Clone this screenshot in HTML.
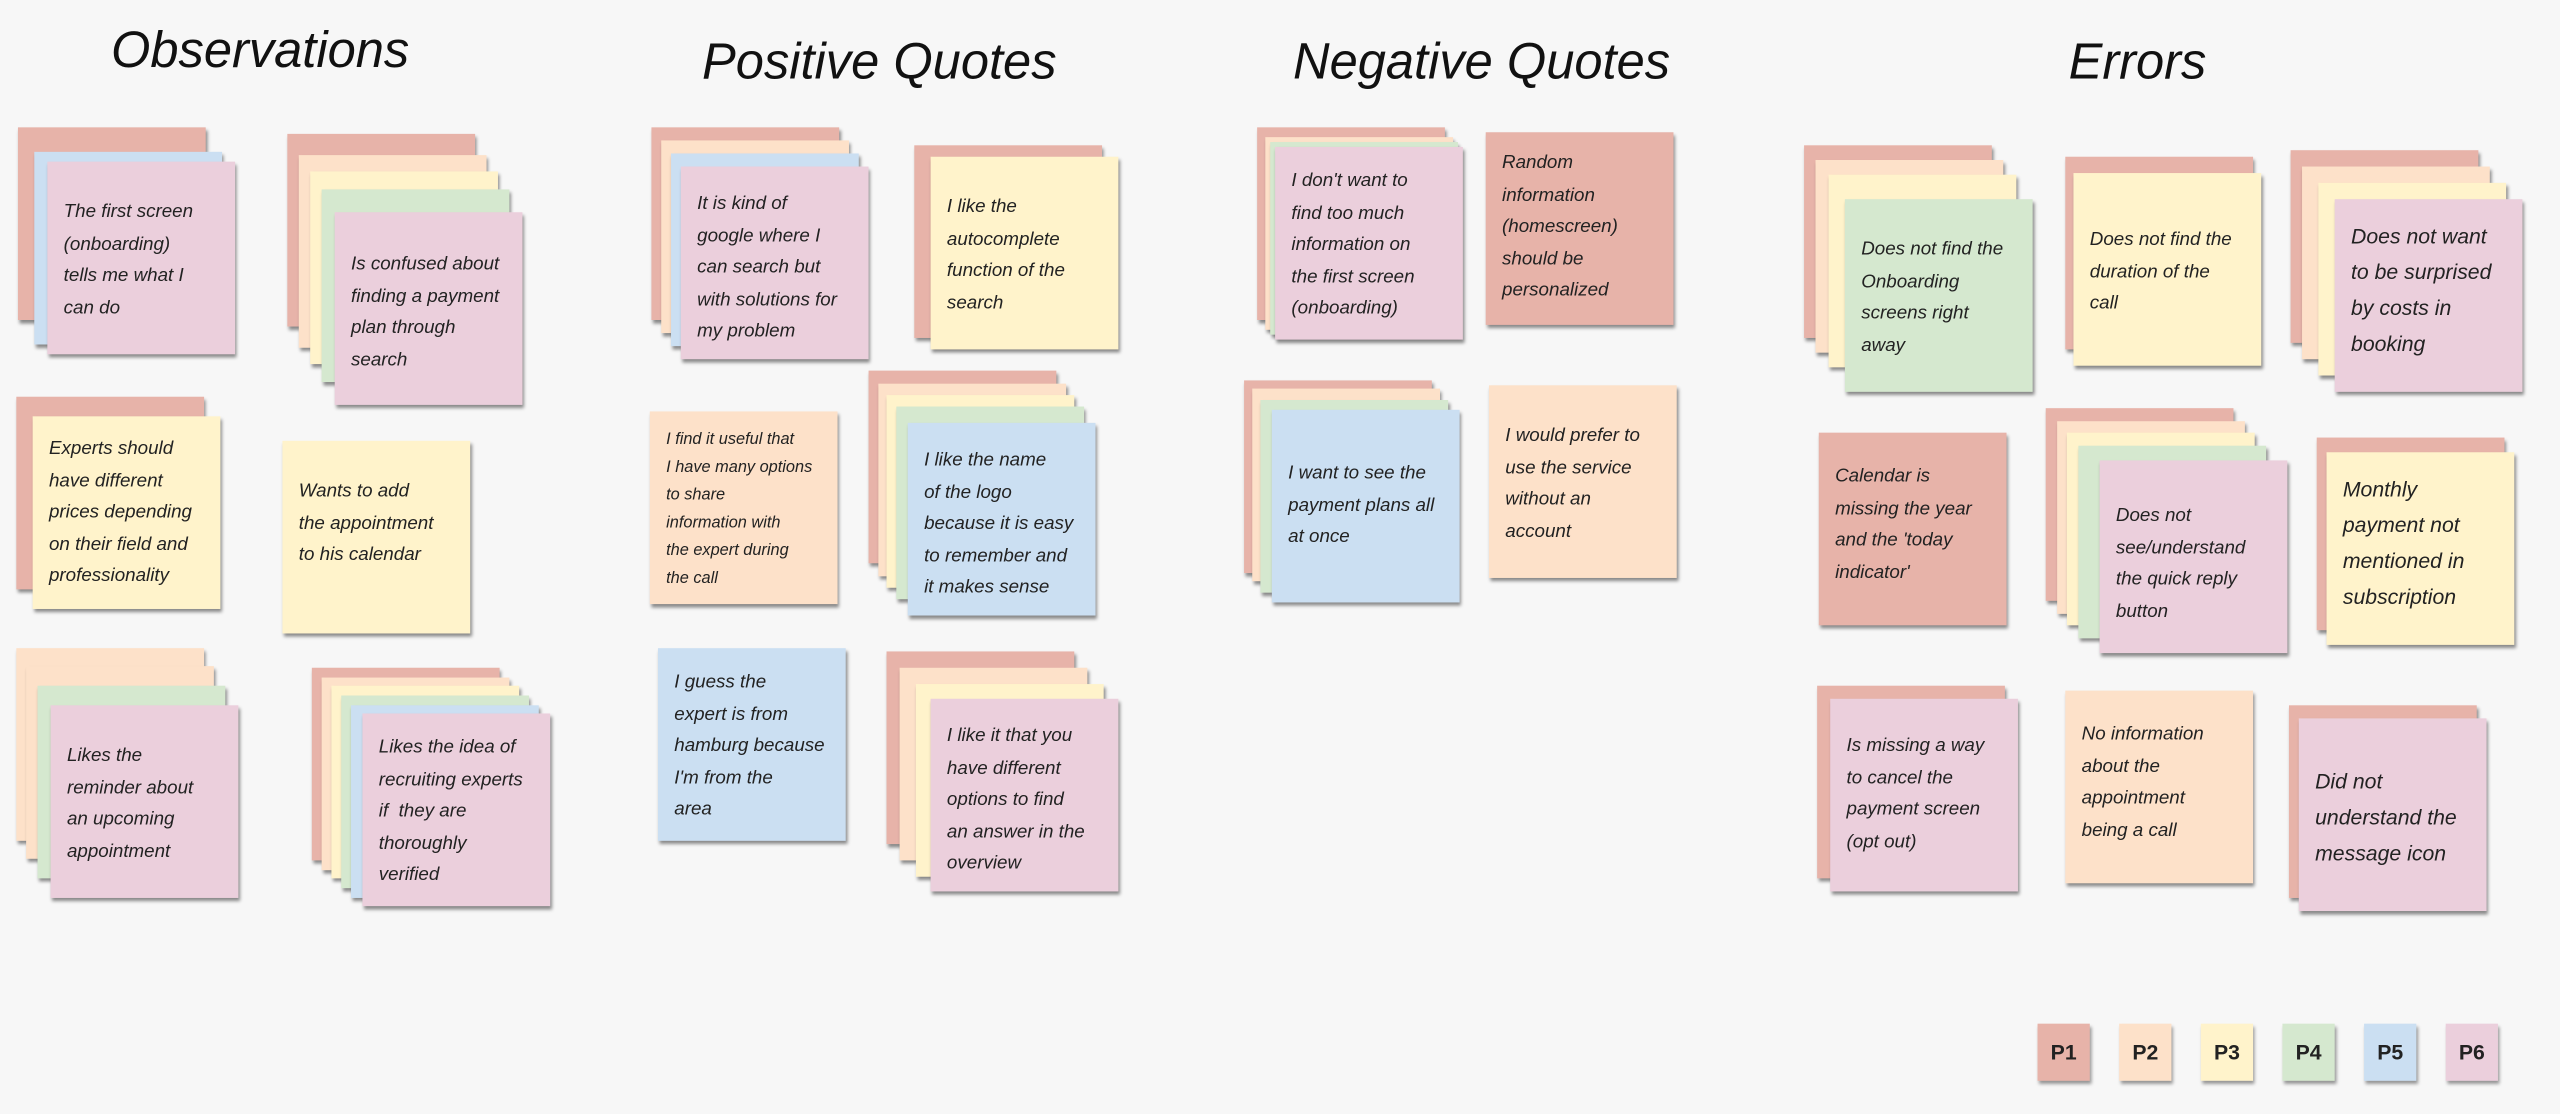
<!DOCTYPE html>
<html><head><meta charset="utf-8">
<style>
html,body{margin:0;padding:0;background:#f7f7f7;}
body{width:2560px;height:1114px;overflow:hidden;position:relative;}
#w{position:absolute;left:0;top:0;width:1568px;height:682px;transform:scale(1.63265);transform-origin:0 0;}
.t{position:absolute;font-family:"Liberation Sans",sans-serif;font-style:italic;font-size:31px;color:#111;letter-spacing:0px;}
.n{position:absolute;width:115px;height:118px;box-shadow:1px 2px 2px rgba(0,0,0,.45);}
.n p{margin:0;position:absolute;left:10px;font-family:"Liberation Sans",sans-serif;font-style:italic;font-size:11.5px;line-height:19.5px;color:#222;white-space:nowrap;}
.s p{font-size:10px;line-height:17px;}
.b p{font-size:13px;line-height:22px;}
.c1{background:#e7b3a9}.c2{background:#fde1c9}.c3{background:#fff3cb}.c4{background:#d5e8cf}.c5{background:#cbdff2}.c6{background:#ebcfdc}
.lg{position:absolute;width:32px;height:35px;box-shadow:1px 2px 2px rgba(0,0,0,.4);font-family:"Liberation Sans",sans-serif;font-weight:bold;font-size:13px;line-height:35px;text-align:center;color:#222;}
</style></head><body><div id="w">
<div class="t" style="left:68px;top:13px">Observations</div>
<div class="t" style="left:430px;top:20px">Positive Quotes</div>
<div class="t" style="left:792px;top:20px">Negative Quotes</div>
<div class="t" style="left:1267px;top:20px">Errors</div>

<!-- Observations -->
<div class="n c1" style="left:11px;top:78px"></div>
<div class="n c5" style="left:21px;top:93px"></div>
<div class="n c6" style="left:29px;top:99px"><p style="top:22px">The first screen<br>(onboarding)<br>tells me what I<br>can do</p></div>

<div class="n c1" style="left:176px;top:82px"></div>
<div class="n c2" style="left:183px;top:95px"></div>
<div class="n c3" style="left:190px;top:105px"></div>
<div class="n c4" style="left:197px;top:116px"></div>
<div class="n c6" style="left:205px;top:130px"><p style="top:23px">Is confused about<br>finding a payment<br>plan through<br>search</p></div>

<div class="n c1" style="left:10px;top:243px"></div>
<div class="n c3" style="left:20px;top:255px"><p style="top:11px">Experts should<br>have different<br>prices depending<br>on their field and<br>professionality</p></div>

<div class="n c3" style="left:173px;top:270px"><p style="top:22px">Wants to add<br>the appointment<br>to his calendar</p></div>

<div class="n c2" style="left:10px;top:397px"></div>
<div class="n c2" style="left:16px;top:408px"></div>
<div class="n c4" style="left:23px;top:420px"></div>
<div class="n c6" style="left:31px;top:432px"><p style="top:22px">Likes the<br>reminder about<br>an upcoming<br>appointment</p></div>

<div class="n c1" style="left:191px;top:409px"></div>
<div class="n c2" style="left:197px;top:415px"></div>
<div class="n c3" style="left:203px;top:420px"></div>
<div class="n c4" style="left:209px;top:426px"></div>
<div class="n c5" style="left:215px;top:432px"></div>
<div class="n c6" style="left:222px;top:437px"><p style="top:12px">Likes the idea of<br>recruiting experts<br>if &nbsp;they are<br>thoroughly<br>verified</p></div>

<!-- Positive -->
<div class="n c1" style="left:399px;top:78px"></div>
<div class="n c2" style="left:405px;top:86px"></div>
<div class="n c5" style="left:411px;top:94px"></div>
<div class="n c6" style="left:417px;top:102px"><p style="top:14px">It is kind of<br>google where I<br>can search but<br>with solutions for<br>my problem</p></div>

<div class="n c1" style="left:560px;top:89px"></div>
<div class="n c3" style="left:570px;top:96px"><p style="top:22px">I like the<br>autocomplete<br>function of the<br>search</p></div>

<div class="n c2 s" style="left:398px;top:252px"><p style="top:9px">I find it useful that<br>I have many options<br>to share<br>information with<br>the expert during<br>the call</p></div>

<div class="n c1" style="left:532px;top:227px"></div>
<div class="n c2" style="left:538px;top:235px"></div>
<div class="n c3" style="left:543px;top:242px"></div>
<div class="n c4" style="left:549px;top:249px"></div>
<div class="n c5" style="left:556px;top:259px"><p style="top:14px">I like the name<br>of the logo<br>because it is easy<br>to remember and<br>it makes sense</p></div>

<div class="n c5" style="left:403px;top:397px"><p style="top:12px">I guess the<br>expert is from<br>hamburg because<br>I'm from the<br>area</p></div>

<div class="n c1" style="left:543px;top:399px"></div>
<div class="n c2" style="left:551px;top:409px"></div>
<div class="n c3" style="left:561px;top:419px"></div>
<div class="n c6" style="left:570px;top:428px"><p style="top:14px">I like it that you<br>have different<br>options to find<br>an answer in the<br>overview</p></div>

<!-- Negative -->
<div class="n c1" style="left:770px;top:78px"></div>
<div class="n c2" style="left:775px;top:84px"></div>
<div class="n c4" style="left:778px;top:87px"></div>
<div class="n c6" style="left:781px;top:90px"><p style="top:12px">I don't want to<br>find too much<br>information on<br>the first screen<br>(onboarding)</p></div>

<div class="n c1" style="left:910px;top:81px"><p style="top:10px">Random<br>information<br>(homescreen)<br>should be<br>personalized</p></div>

<div class="n c1" style="left:762px;top:233px"></div>
<div class="n c2" style="left:767px;top:238px"></div>
<div class="n c4" style="left:772px;top:245px"></div>
<div class="n c5" style="left:779px;top:251px"><p style="top:30px">I want to see the<br>payment plans all<br>at once</p></div>

<div class="n c2" style="left:912px;top:236px"><p style="top:22px">I would prefer to<br>use the service<br>without an<br>account</p></div>

<!-- Errors -->
<div class="n c1" style="left:1105px;top:89px"></div>
<div class="n c2" style="left:1112px;top:98px"></div>
<div class="n c3" style="left:1120px;top:107px"></div>
<div class="n c4" style="left:1130px;top:122px"><p style="top:22px">Does not find the<br>Onboarding<br>screens right<br>away</p></div>

<div class="n c1" style="left:1265px;top:96px"></div>
<div class="n c3" style="left:1270px;top:106px"><p style="top:32px">Does not find the<br>duration of the<br>call</p></div>

<div class="n c1" style="left:1403px;top:92px"></div>
<div class="n c2" style="left:1410px;top:102px"></div>
<div class="n c3" style="left:1420px;top:112px"></div>
<div class="n c6 b" style="left:1430px;top:122px"><p style="top:12px">Does not want<br>to be surprised<br>by costs in<br>booking</p></div>

<div class="n c1" style="left:1114px;top:265px"><p style="top:18px">Calendar is<br>missing the year<br>and the 'today<br>indicator'</p></div>

<div class="n c1" style="left:1253px;top:250px"></div>
<div class="n c2" style="left:1260px;top:258px"></div>
<div class="n c3" style="left:1266px;top:265px"></div>
<div class="n c4" style="left:1273px;top:273px"></div>
<div class="n c6" style="left:1286px;top:282px"><p style="top:25px">Does not<br>see/understand<br>the quick reply<br>button</p></div>

<div class="n c1" style="left:1419px;top:268px"></div>
<div class="n c3 b" style="left:1425px;top:277px"><p style="top:12px">Monthly<br>payment not<br>mentioned in<br>subscription</p></div>

<div class="n c1" style="left:1113px;top:420px"></div>
<div class="n c6" style="left:1121px;top:428px"><p style="top:20px">Is missing a way<br>to cancel the<br>payment screen<br>(opt out)</p></div>

<div class="n c2" style="left:1265px;top:423px"><p style="top:18px">No information<br>about the<br>appointment<br>being a call</p></div>

<div class="n c1" style="left:1402px;top:432px"></div>
<div class="n c6 b" style="left:1408px;top:440px"><p style="top:28px">Did not<br>understand the<br>message icon</p></div>

<!-- Legend -->
<div class="lg c1" style="left:1248px;top:627px">P1</div>
<div class="lg c2" style="left:1298px;top:627px">P2</div>
<div class="lg c3" style="left:1348px;top:627px">P3</div>
<div class="lg c4" style="left:1398px;top:627px">P4</div>
<div class="lg c5" style="left:1448px;top:627px">P5</div>
<div class="lg c6" style="left:1498px;top:627px">P6</div>
</div></body></html>
